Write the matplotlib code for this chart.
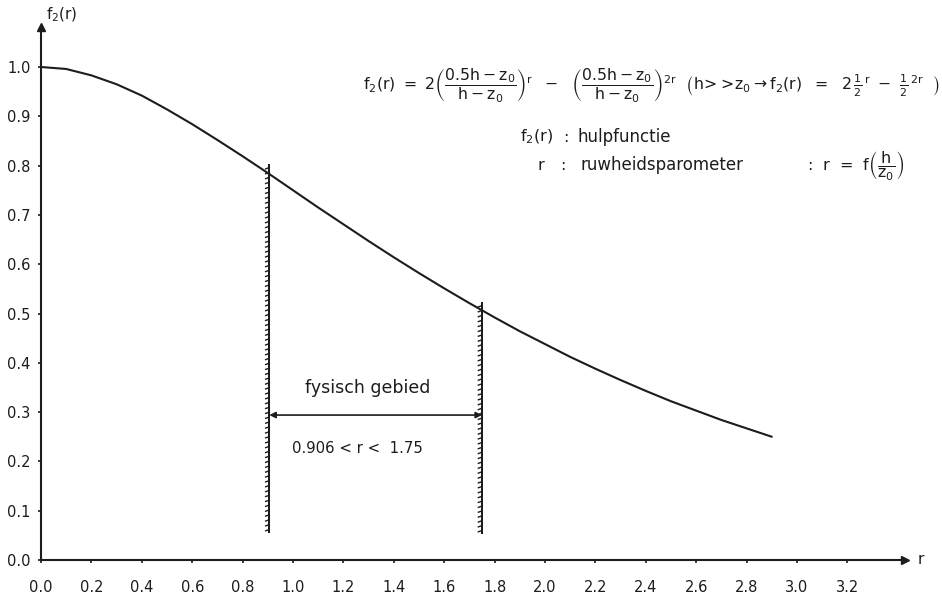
import numpy as np
import matplotlib
matplotlib.use("Agg")
import matplotlib.pyplot as plt
import matplotlib.patheffects as pe

plt.rcParams['font.family'] = ['DejaVu Sans']
plt.rcParams['mathtext.fontset'] = 'dejavusans'

# curve values
r_vals = [0.0, 0.1, 0.2, 0.3, 0.4, 0.5, 0.6, 0.7, 0.8, 0.9, 1.0, 1.1, 1.2, 1.3, 1.4,
          1.5, 1.6, 1.7, 1.8, 1.9, 2.0, 2.1, 2.2, 2.3, 2.4, 2.5, 2.6, 2.7, 2.8, 2.9]
f2_vals = [1.000, 0.996, 0.983, 0.965, 0.942, 0.914, 0.884, 0.852, 0.819, 0.785,
           0.750, 0.715, 0.681, 0.647, 0.614, 0.582, 0.551, 0.521, 0.492, 0.464,
           0.438, 0.412, 0.388, 0.365, 0.343, 0.322, 0.303, 0.284, 0.267, 0.250]

x_ticks = [0.0, 0.2, 0.4, 0.6, 0.8, 1.0, 1.2, 1.4, 1.6, 1.8, 2.0, 2.2, 2.4, 2.6, 2.8, 3.0, 3.2]
y_ticks = [0.0, 0.1, 0.2, 0.3, 0.4, 0.5, 0.6, 0.7, 0.8, 0.9, 1.0]

# physical range ("fysisch gebied")
r_low, r_high = 0.906, 1.75
low_line = [0.057, 0.801]
high_line = [0.055, 0.521]
arrow_y = 0.294

ink = '#1c1c1c'
fs = 11

fig = plt.figure(figsize=(9.42, 5.94), dpi=100)
# axis origin at pixel (41, 560); 252 px per r unit, 493 px per f2 unit
ax = fig.add_axes([41/942, 1-560/594, (905-41)/942, (560-27)/594])
ax.set_xlim(0, (905-41)/252)
ax.set_ylim(0, (560-27)/493)

ax.plot(r_vals, f2_vals, color=ink, lw=1.5, solid_capstyle='round')

# hatched vertical borders
hatch = [pe.withTickedStroke(angle=110, length=0.8, spacing=3.5, linewidth=1.0), pe.Normal()]
ax.plot([r_low, r_low], low_line, color=ink, lw=1.4, path_effects=hatch)
ax.plot([r_high, r_high], high_line, color=ink, lw=1.4, path_effects=hatch)

ax.annotate('', xy=(r_low, arrow_y), xytext=(r_high, arrow_y),
            arrowprops=dict(arrowstyle='<|-|>', color=ink, lw=1.2, mutation_scale=9,
                            shrinkA=0, shrinkB=0))
ax.text(1.298, 0.349, 'fysisch gebied', ha='center', va='center', fontsize=12.5, color=ink)
ax.text(0.996, 0.227, '0.906 < r <  1.75', ha='left', va='center', fontsize=10.7, color=ink)

# formula block, fitted between the chosen pixel edges
formula = ax.text(940/942, 1-86/594,
        r'$\mathrm{f_2(r)\ =\ 2\left(\dfrac{0.5h-z_0}{h-z_0}\right)^{r}\ \ -\ \ \left(\dfrac{0.5h-z_0}{h-z_0}\right)^{2r}\ \ \left(h\!>\!>\!z_0 \rightarrow f_2(r)\ \ =\ \ 2\,\frac{1}{2}^{\,r}\ -\ \frac{1}{2}^{\,2r}\ \ \right)}$',
        ha='right', va='center', fontsize=fs, color=ink, transform=fig.transFigure)
fig.canvas.draw()
w = formula.get_window_extent().width
formula.set_fontsize(fs * (940 - 360) / w)

ax.text(1.90, 0.858, r'$\mathrm{f_2(r)}$', ha='left', va='center', fontsize=11.5, color=ink)
ax.text(2.07, 0.858, ':', ha='left', va='center', fontsize=11.5, color=ink)
ax.text(2.13, 0.858, 'hulpfunctie', ha='left', va='center', fontsize=12, color=ink)
ax.text(1.97, 0.801, 'r', ha='left', va='center', fontsize=11.5, color=ink)
ax.text(2.06, 0.801, ':', ha='left', va='center', fontsize=11.5, color=ink)
ax.text(2.14, 0.801, 'ruwheidsparometer', ha='left', va='center', fontsize=12, color=ink)
ax.text(3.04, 0.801, r':  r  =  f$\left(\mathrm{\dfrac{h}{z_0}}\right)$', ha='left', va='center',
        fontsize=11.5, color=ink)

# axes styling
for s in ['top', 'right']:
    ax.spines[s].set_visible(False)
for s in ['left', 'bottom']:
    ax.spines[s].set_color(ink)
    ax.spines[s].set_linewidth(1.5)
ax.plot(1, 0, '>', color=ink, ms=6, transform=ax.transAxes, clip_on=False)
ax.plot(0, 1, '^', color=ink, ms=6, transform=ax.transAxes, clip_on=False)

ax.set_xticks(x_ticks)
ax.set_xticklabels([f'{v:.1f}' for v in x_ticks])
ax.set_yticks(y_ticks)
ax.set_yticklabels([f'{v:.1f}' for v in y_ticks])
ax.tick_params(direction='out', length=2.5, width=1.2, colors=ink, labelsize=10.5)
ax.tick_params(axis='x', pad=12)
ax.tick_params(axis='y', pad=5)

fig.text(921/942, 1-560/594, 'r', ha='center', va='center', fontsize=fs, color=ink)
fig.text(62/942, 1-15/594, r'$\mathrm{f_2(r)}$', ha='center', va='center', fontsize=fs, color=ink)

fig.savefig('out.png', dpi=100)
